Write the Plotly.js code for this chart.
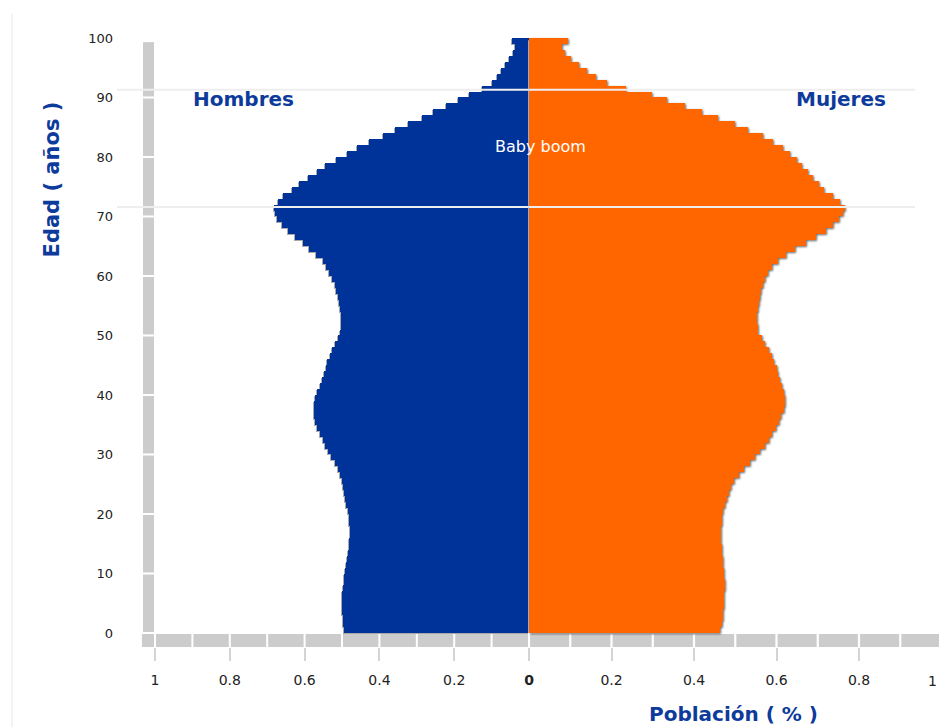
<!DOCTYPE html>
<html>
<head>
<meta charset="utf-8">
<script src="https://cdn.plot.ly/plotly-3.0.1.min.js"></script>
<style>
  html, body { margin: 0; padding: 0; background: #ffffff; }
  #chart { width: 939px; height: 727px; }
</style>
</head>
<body>
<div id="chart"></div>
<script>
// ---- Data ----
const ages = Array.from({length: 100}, (_, i) => i); // 0..99

const hombres = [
  0.495, 0.497, 0.498, 0.499, 0.500, 0.500, 0.499, 0.498, 0.496, 0.494,
  0.492, 0.489, 0.486, 0.483, 0.481, 0.480, 0.479, 0.479, 0.480, 0.482,
  0.485, 0.488, 0.491, 0.494, 0.497, 0.501, 0.506, 0.512, 0.520, 0.530,
  0.538, 0.545, 0.552, 0.559, 0.567, 0.572, 0.576, 0.576, 0.574, 0.571,
  0.566, 0.560, 0.553, 0.548, 0.544, 0.539, 0.533, 0.527, 0.519, 0.511,
  0.506, 0.503, 0.503, 0.504, 0.506, 0.509, 0.512, 0.516, 0.520, 0.526,
  0.535, 0.542, 0.552, 0.570, 0.588, 0.603, 0.625, 0.645, 0.660, 0.674,
  0.680, 0.682, 0.672, 0.658, 0.634, 0.615, 0.591, 0.567, 0.545, 0.516,
  0.487, 0.460, 0.428, 0.390, 0.358, 0.324, 0.286, 0.257, 0.222, 0.190,
  0.160, 0.126, 0.100, 0.085, 0.075, 0.064, 0.053, 0.043, 0.037, 0.045
];

const mujeres = [
  0.463, 0.467, 0.470, 0.471, 0.472, 0.473, 0.473, 0.474, 0.474, 0.473,
  0.472, 0.471, 0.470, 0.469, 0.467, 0.466, 0.465, 0.466, 0.467, 0.468,
  0.471, 0.475, 0.479, 0.484, 0.490, 0.497, 0.508, 0.521, 0.535, 0.548,
  0.560, 0.572, 0.582, 0.590, 0.598, 0.606, 0.612, 0.617, 0.620, 0.620,
  0.617, 0.613, 0.608, 0.604, 0.600, 0.595, 0.590, 0.583, 0.573, 0.565,
  0.556, 0.554, 0.553, 0.553, 0.554, 0.557, 0.560, 0.563, 0.568, 0.573,
  0.580, 0.590, 0.603, 0.622, 0.645, 0.672, 0.695, 0.720, 0.738, 0.752,
  0.762, 0.765, 0.755, 0.737, 0.716, 0.702, 0.688, 0.676, 0.662, 0.650,
  0.633, 0.615, 0.592, 0.567, 0.531, 0.499, 0.458, 0.419, 0.378, 0.334,
  0.298, 0.235, 0.190, 0.162, 0.140, 0.120, 0.103, 0.088, 0.080, 0.095
];

const xTicksLeft = [1, 0.8, 0.6, 0.4, 0.2, 0];
const xTickTextLeft = ['1', '0.8', '0.6', '0.4', '0.2', '<b>0</b>'];
const xTicksRight = [0.2, 0.4, 0.6, 0.8];
const xTickTextRight = ['0.2', '0.4', '0.6', '0.8'];
const yTicks = [0, 10, 20, 30, 40, 50, 60, 70, 80, 90, 100];
const markerAges = [91.3, 71.6]; // horizontal reference lines

// ---- Styles ----
const BLUE = '#003399';
const ORANGE = '#ff6600';
const TEXTBLUE = '#0d3b9c';
const GRAY = '#cccccc';
const FAMILY = 'DejaVu Sans, Verdana, sans-serif';
const yTickFont = {family: FAMILY, size: 13, color: '#222222'};
const xTickFont = {family: FAMILY, size: 14, color: '#222222'};
const titleFont = {family: FAMILY, size: 20, color: TEXTBLUE};

const traces = [
  {
    type: 'bar', orientation: 'h', name: 'Hombres',
    x: hombres, y: ages, xaxis: 'x', yaxis: 'y',
    width: 1, offset: 0,
    marker: {color: BLUE, line: {width: 0}},
    hoverinfo: 'skip'
  },
  {
    type: 'bar', orientation: 'h', name: 'Mujeres',
    x: mujeres, y: ages, xaxis: 'x2', yaxis: 'y',
    width: 1, offset: 0,
    marker: {color: ORANGE, line: {width: 0}},
    hoverinfo: 'skip'
  }
];

// gray axis bands (segmented)
const shapes = [];
const gapY = 0.17;
for (let k = 0; k < 10; k++) {
  shapes.push({
    type: 'rect', xref: 'paper', yref: 'y', layer: 'below',
    x0: 0.0316, x1: 0.0450,
    y0: yTicks[k] + gapY, y1: (k === 9 ? 99.3 : yTicks[k + 1] - gapY),
    fillcolor: GRAY, line: {width: 0}
  });
}
const gapX = 0.0027;
const bandY0 = -0.17, bandY1 = -2.35;
const leftBounds = [1.035, 1.0, 0.9, 0.8, 0.7, 0.6, 0.5, 0.4, 0.3, 0.2, 0.1, 0.0];
for (let i = 0; i < leftBounds.length - 1; i++) {
  shapes.push({
    type: 'rect', xref: 'x', yref: 'y', layer: 'below',
    x0: leftBounds[i] - (i === 0 ? 0 : gapX), x1: leftBounds[i + 1] + gapX,
    y0: bandY0, y1: bandY1, fillcolor: GRAY, line: {width: 0}
  });
}
const rightBounds = [0.0, 0.1, 0.2, 0.3, 0.4, 0.5, 0.6, 0.7, 0.8, 0.9, 1.0];
for (let i = 0; i < rightBounds.length - 1; i++) {
  shapes.push({
    type: 'rect', xref: 'x2', yref: 'y', layer: 'below',
    x0: rightBounds[i] + gapX, x1: rightBounds[i + 1] - (i === rightBounds.length - 2 ? 0 : gapX),
    y0: bandY0, y1: bandY1, fillcolor: GRAY, line: {width: 0}
  });
}
markerAges.forEach(a => {
  shapes.push({
    type: 'line', xref: 'paper', yref: 'y', layer: 'above',
    x0: 0, x1: 0.9708, y0: a, y1: a,
    line: {color: '#eeeeee', width: 2}
  });
});
shapes.push({
  type: 'line', xref: 'x', yref: 'y', layer: 'above',
  x0: 0, x1: 0, y0: 0, y1: 99.6,
  line: {color: '#c9d3ea', width: 1.5}
});
shapes.push({
  type: 'line', xref: 'paper', yref: 'paper', layer: 'below',
  x0: -0.1277, x1: -0.1277, y0: 1.026, y1: -0.14,
  line: {color: '#e8e8e8', width: 1}
});

const annotations = [
  {text: '<b>Hombres</b>', xref: 'paper', yref: 'y', x: 0.1533, y: 89.75,
   showarrow: false, font: titleFont, xanchor: 'center', yanchor: 'middle'},
  {text: '<b>Mujeres</b>', xref: 'paper', yref: 'y', x: 0.8808, y: 89.75,
   showarrow: false, font: titleFont, xanchor: 'center', yanchor: 'middle'},
  {text: 'Baby boom', xref: 'paper', yref: 'y', x: 0.5146, y: 81.7,
   showarrow: false, font: {family: FAMILY, size: 16, color: '#ffffff'},
   xanchor: 'center', yanchor: 'middle'},
  {text: '<b>Edad ( años )</b>', xref: 'paper', yref: 'y', x: -0.0785, y: 76.3, textangle: -90,
   showarrow: false, font: {family: FAMILY, size: 21, color: TEXTBLUE}, xanchor: 'center', yanchor: 'middle'},
  {text: '<b>Población ( % )</b>', xref: 'paper', yref: 'paper', x: 0.7494, y: -0.1086,
   showarrow: false, font: titleFont, xanchor: 'center', yanchor: 'middle'},
  {text: '1', xref: 'paper', yref: 'paper', x: 0.9927, y: -0.0551,
   showarrow: false, font: xTickFont, xanchor: 'center', yanchor: 'middle'}
];

const axisCommon = {
  showgrid: false, zeroline: false, showline: false,
  ticks: 'outside', ticklen: 13, tickwidth: 2, tickcolor: '#d4d4d4',
  tickfont: xTickFont, ticklabelstandoff: 7, fixedrange: true
};

const layout = {
  width: 939, height: 727,
  margin: {l: 117, r: 0, t: 30, b: 80, pad: 0},
  paper_bgcolor: '#ffffff', plot_bgcolor: 'rgba(0,0,0,0)',
  showlegend: false, barmode: 'overlay', bargap: 0,
  xaxis: Object.assign({}, axisCommon, {
    domain: [0, 0.50122], range: [1.1016, 0], anchor: 'y',
    tickmode: 'array', tickvals: xTicksLeft, ticktext: xTickTextLeft
  }),
  xaxis2: Object.assign({}, axisCommon, {
    domain: [0.50122, 1], range: [0, 0.99394], anchor: 'y',
    tickmode: 'array', tickvals: xTicksRight, ticktext: xTickTextRight
  }),
  yaxis: {
    range: [-2.353, 101.34], anchor: 'free', position: 0,
    tickmode: 'array', tickvals: yTicks, ticks: '',
    showgrid: false, zeroline: false, showline: false,
    tickfont: yTickFont, ticklabelstandoff: 4, fixedrange: true
  },
  shapes: shapes,
  annotations: annotations
};

Plotly.newPlot('chart', traces, layout, {displayModeBar: false, staticPlot: true}).then(() => {
  const groups = document.querySelectorAll('.barlayer g.trace');
  if (groups[1]) groups[1].style.filter = 'drop-shadow(1.5px 1px 0.8px rgba(40,40,40,0.7))';
  if (groups[0]) groups[0].style.filter = 'drop-shadow(-0.5px 1px 0.6px rgba(40,40,40,0.4))';
});
</script>
</body>
</html>
